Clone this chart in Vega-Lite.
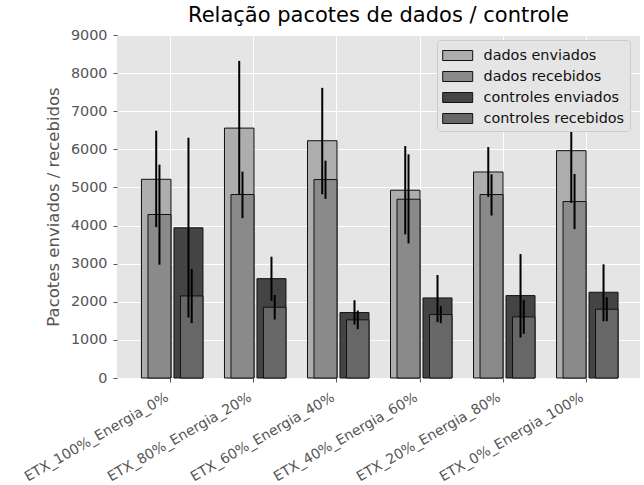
{
  "$schema": "https://vega.github.io/schema/vega-lite/v6.json",
  "width": 523,
  "height": 343,
  "autosize": {"type": "none"},
  "padding": {"left": 117, "top": 35, "right": 4, "bottom": 107},
  "background": "white",
  "title": {"text": "Relação pacotes de dados / controle", "fontSize": 21, "font": "DejaVu Sans", "fontWeight": "normal", "color": "#000000", "anchor": "middle", "baseline": "bottom", "offset": 0, "dy": 20},
  "config": {
    "font": "DejaVu Sans",
    "view": {"fill": "#E5E5E5", "stroke": null},
    "axis": {"domain": false, "tickColor": "#555555", "tickSize": 4, "tickWidth": 1, "labelColor": "#555555", "labelFont": "DejaVu Sans", "labelFontSize": 14.4, "labelLimit": 400, "gridColor": "#FFFFFF", "gridWidth": 1, "gridOpacity": 1, "titleFont": "DejaVu Sans", "titleFontWeight": "normal", "titleColor": "#555555", "titleFontSize": 16.5}
  },
  "data": {"values": [
    {"cat": "ETX_100%_Energia_0%", "serie": "dados enviados", "v": 5214, "lo": 3959, "hi": 6489},
    {"cat": "ETX_100%_Energia_0%", "serie": "dados recebidos", "v": 4290, "lo": 2973, "hi": 5599},
    {"cat": "ETX_100%_Energia_0%", "serie": "controles enviados", "v": 3941, "lo": 1587, "hi": 6305},
    {"cat": "ETX_100%_Energia_0%", "serie": "controles recebidos", "v": 2153, "lo": 1439, "hi": 2860},
    {"cat": "ETX_80%_Energia_20%", "serie": "dados enviados", "v": 6557, "lo": 4814, "hi": 8320},
    {"cat": "ETX_80%_Energia_20%", "serie": "dados recebidos", "v": 4814, "lo": 4194, "hi": 5416},
    {"cat": "ETX_80%_Energia_20%", "serie": "controles enviados", "v": 2607, "lo": 2022, "hi": 3183},
    {"cat": "ETX_80%_Energia_20%", "serie": "controles recebidos", "v": 1857, "lo": 1534, "hi": 2179},
    {"cat": "ETX_60%_Energia_40%", "serie": "dados enviados", "v": 6226, "lo": 4822, "hi": 7613},
    {"cat": "ETX_60%_Energia_40%", "serie": "dados recebidos", "v": 5206, "lo": 4700, "hi": 5703},
    {"cat": "ETX_60%_Energia_40%", "serie": "controles enviados", "v": 1717, "lo": 1403, "hi": 2040},
    {"cat": "ETX_60%_Energia_40%", "serie": "controles recebidos", "v": 1526, "lo": 1282, "hi": 1770},
    {"cat": "ETX_40%_Energia_60%", "serie": "dados enviados", "v": 4927, "lo": 3768, "hi": 6086},
    {"cat": "ETX_40%_Energia_60%", "serie": "dados recebidos", "v": 4691, "lo": 3532, "hi": 5869},
    {"cat": "ETX_40%_Energia_60%", "serie": "controles enviados", "v": 2101, "lo": 1465, "hi": 2703},
    {"cat": "ETX_40%_Energia_60%", "serie": "controles recebidos", "v": 1665, "lo": 1439, "hi": 1884},
    {"cat": "ETX_20%_Energia_80%", "serie": "dados enviados", "v": 5406, "lo": 4752, "hi": 6060},
    {"cat": "ETX_20%_Energia_80%", "serie": "dados recebidos", "v": 4814, "lo": 4264, "hi": 5345},
    {"cat": "ETX_20%_Energia_80%", "serie": "controles enviados", "v": 2162, "lo": 1063, "hi": 3252},
    {"cat": "ETX_20%_Energia_80%", "serie": "controles recebidos", "v": 1604, "lo": 1159, "hi": 2049},
    {"cat": "ETX_0%_Energia_100%", "serie": "dados enviados", "v": 5965, "lo": 4595, "hi": 7335},
    {"cat": "ETX_0%_Energia_100%", "serie": "dados recebidos", "v": 4630, "lo": 3906, "hi": 5353},
    {"cat": "ETX_0%_Energia_100%", "serie": "controles enviados", "v": 2250, "lo": 1491, "hi": 2983},
    {"cat": "ETX_0%_Energia_100%", "serie": "controles recebidos", "v": 1805, "lo": 1491, "hi": 2119}
  ]},
  "encoding": {
    "x": {
      "field": "cat", "type": "nominal",
      "sort": ["ETX_100%_Energia_0%", "ETX_80%_Energia_20%", "ETX_60%_Energia_40%", "ETX_40%_Energia_60%", "ETX_20%_Energia_80%", "ETX_0%_Energia_100%"],
      "scale": {"type": "band", "paddingInner": 0, "paddingOuter": 0.15},
      "axis": {"title": null, "grid": true, "bandPosition": 0.5, "labelFontSize": 14, "labelAngle": -30, "labelAlign": "right", "labelBaseline": "top", "labelOffset": -7, "labelPadding": 8, "labelOverlap": false, "labelBound": false, "labelFlush": false, "labelLimit": 400}
    },
    "y": {
      "type": "quantitative",
      "scale": {"domain": [0, 9000], "nice": false, "zero": true},
      "axis": {"title": "Pacotes enviados / recebidos", "format": "d", "values": [0, 1000, 2000, 3000, 4000, 5000, 6000, 7000, 8000, 9000], "labelPadding": 6, "titlePadding": 9, "grid": true}
    }
  },
  "layer": [
    {
      "transform": [{"filter": {"field": "serie", "equal": "dados enviados"}}],
      "mark": {"type": "bar", "width": 29.5, "xOffset": -14.75, "stroke": "#111111", "strokeWidth": 1},
      "encoding": {"y": {"field": "v", "type": "quantitative"}, "color": {"field": "serie", "type": "nominal"}}
    },
    {
      "transform": [{"filter": {"field": "serie", "equal": "dados recebidos"}}],
      "mark": {"type": "bar", "width": 23, "xOffset": -11.5, "stroke": "#111111", "strokeWidth": 1},
      "encoding": {"y": {"field": "v", "type": "quantitative"}, "color": {"field": "serie", "type": "nominal"}}
    },
    {
      "transform": [{"filter": {"field": "serie", "equal": "controles enviados"}}],
      "mark": {"type": "bar", "width": 29, "xOffset": 17.5, "stroke": "#111111", "strokeWidth": 1},
      "encoding": {"y": {"field": "v", "type": "quantitative"}, "color": {"field": "serie", "type": "nominal"}}
    },
    {
      "transform": [{"filter": {"field": "serie", "equal": "controles recebidos"}}],
      "mark": {"type": "bar", "width": 22.5, "xOffset": 20.75, "stroke": "#111111", "strokeWidth": 1},
      "encoding": {
        "y": {"field": "v", "type": "quantitative"},
        "color": {
          "field": "serie", "type": "nominal",
          "scale": {"domain": ["dados enviados", "dados recebidos", "controles enviados", "controles recebidos"], "range": ["#ADADAD", "#8A8A8A", "#444444", "#676767"]},
          "legend": {
            "title": null, "orient": "none", "legendX": 320, "legendY": 5,
            "symbolType": "M-1.5,-0.5H1.5V0.5H-1.5Z", "symbolSize": 400, "symbolStrokeColor": "#111111", "symbolStrokeWidth": 1, "symbolOpacity": 1, "symbolOffset": 5.2,
            "labelFont": "DejaVu Sans", "labelFontSize": 14.4, "labelColor": "#111111", "labelOffset": 15.3, "labelLimit": 400,
            "padding": 5, "rowPadding": 3, "fillColor": "#E5E5E5", "strokeColor": "#CCCCCC", "cornerRadius": 3
          }
        }
      }
    },
    {
      "transform": [{"filter": {"field": "serie", "equal": "dados enviados"}}],
      "mark": {"type": "rule", "xOffset": -14.75, "color": "#000000", "strokeWidth": 2},
      "encoding": {"y": {"field": "lo", "type": "quantitative"}, "y2": {"field": "hi"}}
    },
    {
      "transform": [{"filter": {"field": "serie", "equal": "dados recebidos"}}],
      "mark": {"type": "rule", "xOffset": -11.5, "color": "#000000", "strokeWidth": 2},
      "encoding": {"y": {"field": "lo", "type": "quantitative"}, "y2": {"field": "hi"}}
    },
    {
      "transform": [{"filter": {"field": "serie", "equal": "controles enviados"}}],
      "mark": {"type": "rule", "xOffset": 17.5, "color": "#000000", "strokeWidth": 2},
      "encoding": {"y": {"field": "lo", "type": "quantitative"}, "y2": {"field": "hi"}}
    },
    {
      "transform": [{"filter": {"field": "serie", "equal": "controles recebidos"}}],
      "mark": {"type": "rule", "xOffset": 20.75, "color": "#000000", "strokeWidth": 2},
      "encoding": {"y": {"field": "lo", "type": "quantitative"}, "y2": {"field": "hi"}}
    }
  ]
}
